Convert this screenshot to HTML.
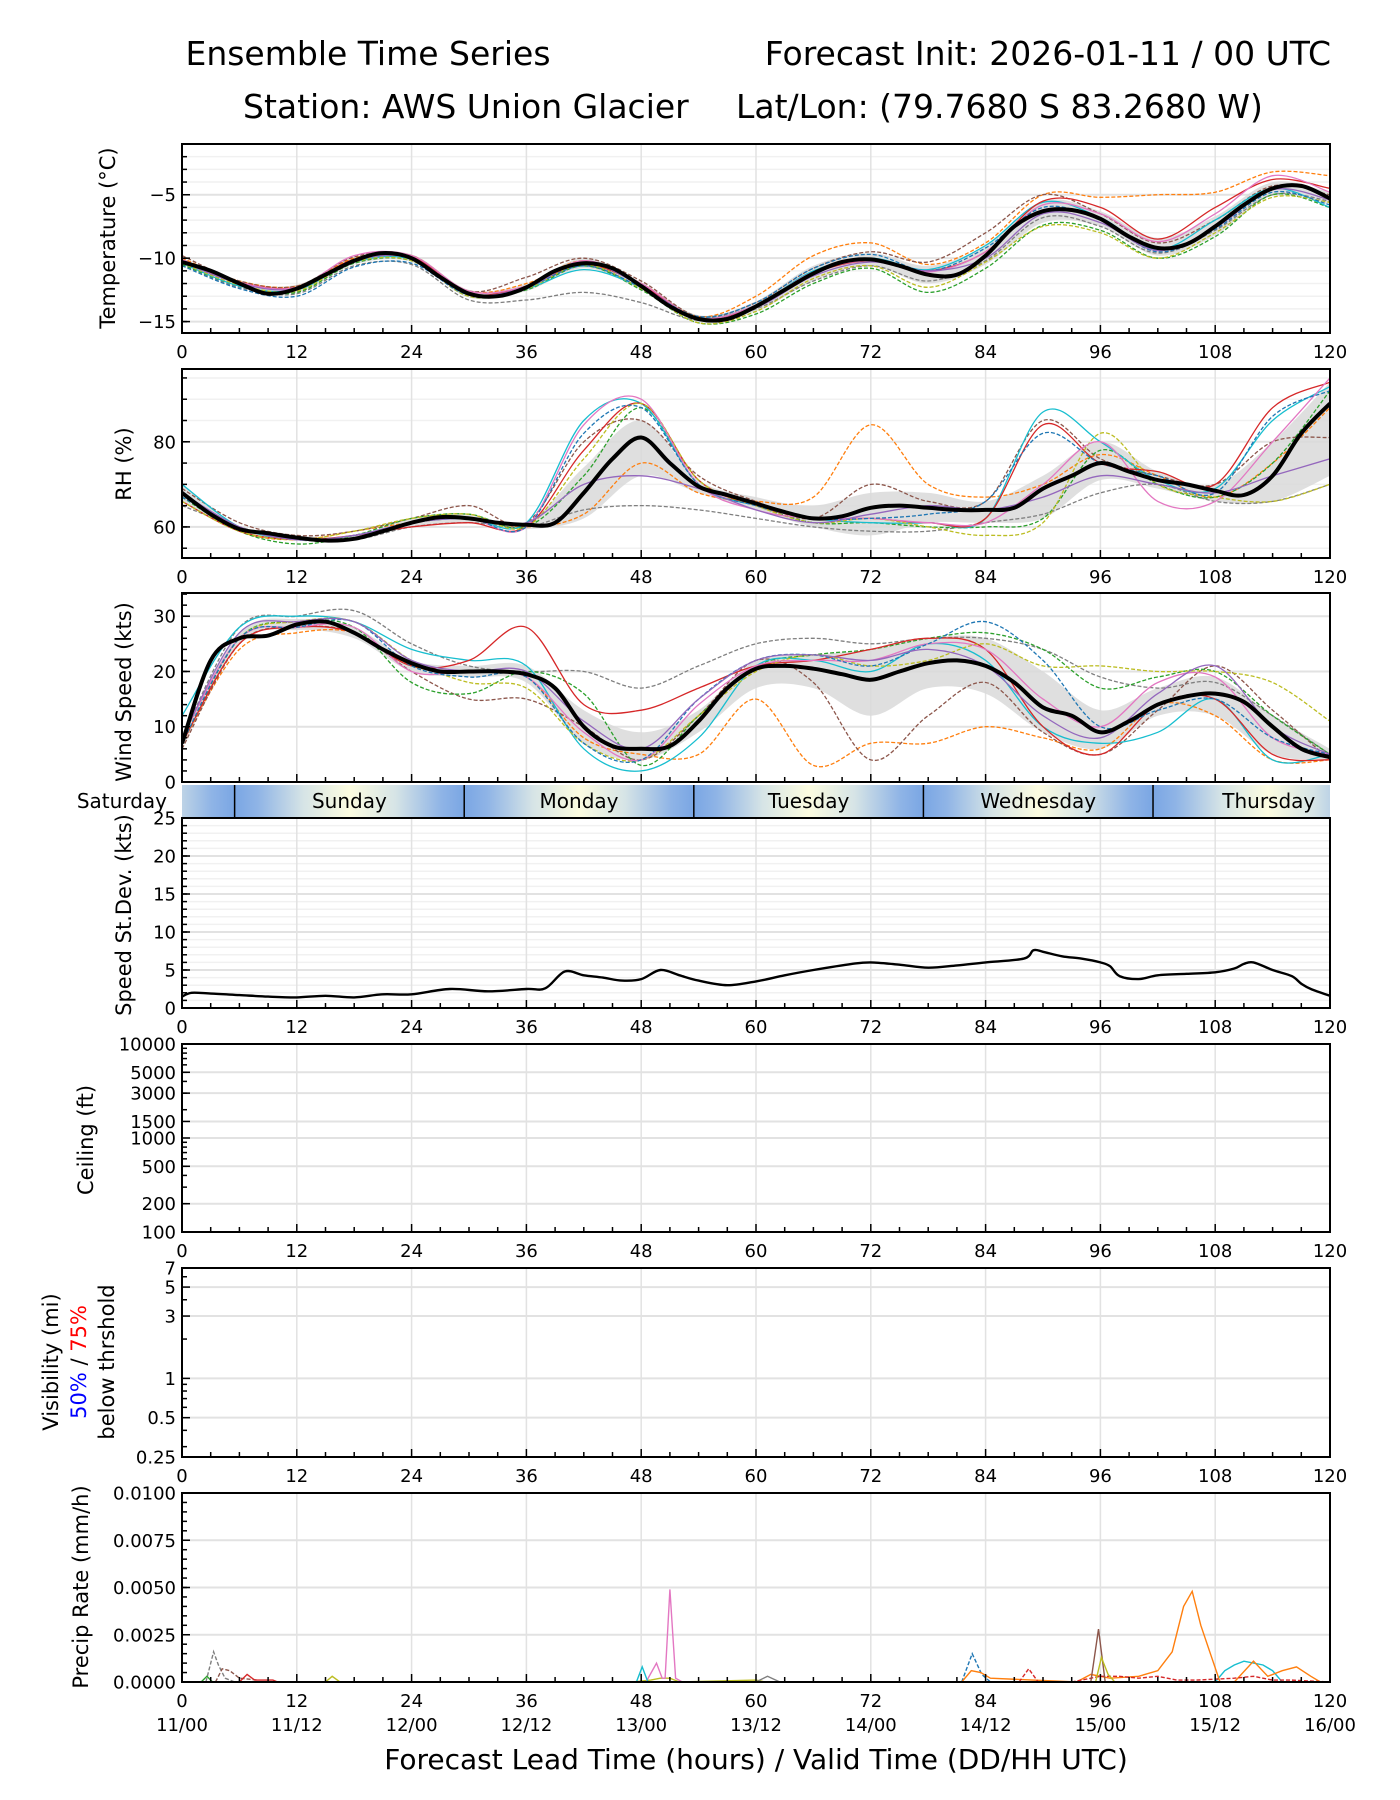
<!DOCTYPE html>
<html><head><meta charset="utf-8"><style>
html,body{margin:0;padding:0;background:#fff}
svg{display:block}
text{font-family:"DejaVu Sans","Liberation Sans",sans-serif;fill:#000}
</style></head><body>
<svg id="chart" xmlns="http://www.w3.org/2000/svg" width="1400" height="1800" viewBox="0 0 1400 1800">
<text x="368" y="65" font-size="33" text-anchor="middle">Ensemble Time Series</text>
<text x="1331" y="65" font-size="33" text-anchor="end">Forecast Init: 2026-01-11 / 00 UTC</text>
<text x="243" y="118" font-size="33">Station: AWS Union Glacier</text>
<text x="736" y="118" font-size="33">Lat/Lon: (79.7680 S 83.2680 W)</text>
<text x="756" y="1769" font-size="28" text-anchor="middle">Forecast Lead Time (hours) / Valid Time (DD/HH UTC)</text>
<g id="layer"></g>
</svg>
<script>
// ---- data ----
const xTicks=[0,12,24,36,48,60,72,84,96,108,120];
const validLabels=["11/00","11/12","12/00","12/12","13/00","13/12","14/00","14/12","15/00","15/12","16/00"];
const dayNames=["Saturday","Sunday","Monday","Tuesday","Wednesday","Thursday"];
const dayStarts=[-18.5,5.5,29.5,53.5,77.5,101.5];
const memberColors=["#ff7f0e","#7f7f7f","#8c564b","#2ca02c","#17becf","#d62728","#bcbd22","#e377c2","#1f77b4","#9467bd"];
const memberDash=[true,true,true,true,false,false,true,false,true,false];

const tempMean=[-10.3,-11.0,-12.0,-12.8,-12.4,-11.3,-10.2,-9.6,-10.0,-11.5,-12.8,-13.0,-12.3,-11.0,-10.4,-10.8,-12.2,-13.8,-14.8,-14.8,-13.8,-12.5,-11.2,-10.3,-10.1,-10.6,-11.3,-11.3,-9.8,-7.5,-6.3,-6.2,-6.9,-8.3,-9.2,-8.9,-7.5,-5.8,-4.5,-4.3,-5.3];
const tempLo=[-10.5,-12.2,-12.7,-10.5,-10.3,-13.1,-12.6,-10.8,-12.5,-15.0,-14.2,-11.8,-10.6,-12.0,-10.5,-7.2,-7.5,-9.8,-8.2,-5.0,-5.8];
const tempHi=[-10.0,-11.8,-12.1,-9.9,-9.7,-12.5,-12.0,-10.0,-11.9,-14.5,-13.4,-10.6,-9.6,-10.6,-9.0,-5.5,-6.3,-8.4,-6.7,-4.0,-4.8];
const tempM1=[-10.0,-11.8,-12.2,-10.0,-9.8,-12.6,-12.0,-10.2,-12.0,-14.6,-13.0,-9.8,-8.8,-10.5,-8.8,-5.0,-5.2,-5.0,-4.8,-3.2,-3.5];
const tempM2=[-10.5,-12.3,-12.8,-10.6,-10.5,-13.3,-13.3,-12.7,-13.5,-14.9,-14.0,-11.8,-10.6,-11.8,-10.2,-6.8,-7.5,-9.6,-7.8,-5.0,-5.5];
const tempM3=[-9.8,-11.8,-12.2,-9.9,-9.8,-12.6,-11.5,-10.0,-11.8,-14.6,-13.5,-10.8,-9.5,-10.3,-8.0,-5.0,-6.5,-8.8,-7.0,-4.3,-5.0];
const tempM4=[-10.5,-12.2,-12.7,-10.4,-10.2,-13.0,-12.5,-10.6,-12.5,-15.1,-14.4,-12.0,-10.8,-12.7,-10.8,-7.4,-7.8,-10.0,-8.3,-5.0,-6.0];
const tempM5=[-10.4,-12.2,-12.5,-10.3,-10.1,-12.9,-12.4,-10.9,-12.3,-14.7,-13.7,-11.0,-10.0,-10.9,-9.0,-5.6,-6.8,-9.3,-7.0,-4.5,-6.0];
const tempM6=[-10.2,-11.9,-12.3,-10.1,-9.9,-12.8,-12.2,-10.5,-12.1,-14.8,-13.8,-11.2,-10.2,-11.0,-9.5,-5.5,-6.0,-8.5,-6.0,-3.8,-4.5];
const tempM7=[-10.4,-12.1,-12.6,-10.3,-10.2,-13.0,-12.4,-10.5,-12.4,-15.1,-14.2,-11.6,-10.6,-12.3,-10.3,-7.5,-8.0,-10.0,-8.0,-5.2,-5.6];
const tempM8=[-10.1,-11.9,-12.3,-9.8,-9.8,-12.6,-12.2,-10.2,-12.0,-14.7,-13.7,-11.1,-10.2,-11.1,-9.5,-5.8,-6.5,-8.7,-6.5,-3.5,-4.8];
const tempM9=[-10.6,-12.4,-13.0,-10.7,-10.4,-12.9,-12.3,-10.6,-12.3,-14.6,-13.5,-10.8,-9.7,-11.0,-9.2,-6.0,-7.0,-9.5,-7.7,-4.8,-5.8];
const tempM10=[-10.3,-12.0,-12.4,-10.2,-10.0,-12.8,-12.3,-10.3,-12.2,-14.8,-13.9,-11.4,-10.3,-11.0,-10.0,-6.5,-7.2,-9.4,-7.6,-4.6,-5.4];

const rhMean=[68,63,59.5,58.5,57.5,56.8,57.2,59,61,62.3,62,61,60.5,61,68,76,81,75,69.5,67.5,65.5,63.5,62,62.5,64.5,65,64.5,64,64,64.5,69,72,75,73,71,70,68.5,67.5,72,82,89];
const rhLo=[66,59,57,57,60,61,59.5,62,72,68,64,60,58,61,61,62,71,69,66,66,72];
const rhHi=[70,60,58,58,62,63,61,74,85,71,67,65,68,68,66,72,80,73,70,80,94];
const rhM1=[68,59,57,59,61,62,60,63,75,68,66,67,84,70,67,70,77,72,67,75,88];
const rhM2=[65,60,57,57,60,61,60,64,65,64,62,60,59,59,61,63,68,70,66,66,70];
const rhM3=[69,61,58,59,62,65,61,80,85,72,66,62,70,66,66,85,76,72,70,80,81];
const rhM4=[67,59,56,58,62,63,60,72,88,70,65,61,61,60,60,62,78,70,67,75,92];
const rhM5=[70,60,57,58,61,62,61,85,89,70,65,62,61,61,62,87,80,71,69,85,93];
const rhM6=[66,59,57,58,60,61,60,78,89,71,65,62,62,61,62,84,75,73,70,88,94];
const rhM7=[66,59,57,59,62,63,60,76,89,71,65,61,62,60,58,61,82,70,67,66,70];
const rhM8=[68,60,57,58,61,62,60,84,90,70,64,62,62,61,61,70,80,66,66,80,95];
const rhM9=[67,60,57,58,61,62,60,82,88,70,65,62,62,63,66,82,75,72,68,86,92];
const rhM10=[68,60,57,58,61,62,61,70,72,69,64,61,63,65,64,67,72,70,68,72,76];

const windMean=[7,22,26,26.5,28.5,29,27,24,21.5,20,20,20,19.5,17,10,6.5,6,6.5,11,17,20.5,21,20.5,19.5,18.5,20,21.5,22,21,18,13.5,12,9,11,14,15.5,16,14.5,10,6,4.5];
const windLo=[6,25,27.5,26,20,19,18,7,4,9,17,17,12,17,16,9,6,12,12,5,4];
const windHi=[8,27,29.5,28,22,21,21,13,9,13,22,23,24,26,26,20,13,17,19,12,6];
const windM1=[7,24,27,27,21,20,19,8,5,5,15,3,7,7,10,8,6,14,12,4,4];
const windM2=[8,28,30,31,25,21,20,20,17,21,25,26,25,26,26,24,19,17,18,12,5];
const windM3=[6,25,28,27,20,15,15,10,4,12,22,18,4,12,18,9,5,13,21,13,4];
const windM4=[7,26,29,28,18,16,20,16,3,12,21,23,24,26,27,24,17,19,20,12,5];
const windM5=[12,28,30,29,24,22,21,6,2,8,21,22,20,25,22,10,7,9,15,4,5];
const windM6=[7,25,28,27,21,22,28,14,13,17,21,22,24,26,24,10,5,14,15,5,4];
const windM7=[8,26,29,29,22,18,17,7,4,12,20,23,21,22,25,21,21,20,20,18,11];
const windM8=[8,26,28,28,20,20,19,9,4,14,21,22,22,25,24,15,10,18,19,8,5];
const windM9=[7,26,28,29,21,19,19,7,4,15,22,23,21,25,29,22,10,13,15,8,5];
const windM10=[8,27,29,29,22,20,20,11,6,15,22,23,22,24,21,12,8,16,21,10,5];

const sdHours=[0,1,3,6,9,12,15,18,21,24,28,32,36,38,40,42,44,46,48,50,52,54,57,60,63,66,70,72,75,78,81,84,88,89,90,92,94,96,97,98,100,102,105,108,110,111,112,114,116,117,118,120];
const sdValues=[1.5,2.0,1.9,1.7,1.5,1.4,1.6,1.4,1.8,1.8,2.5,2.2,2.5,2.6,4.8,4.3,4.0,3.6,3.8,5.0,4.3,3.6,3.0,3.5,4.3,5.0,5.8,6.0,5.7,5.3,5.6,6.0,6.5,7.6,7.4,6.8,6.5,6.0,5.5,4.2,3.8,4.3,4.5,4.7,5.2,5.8,6.0,5.0,4.2,3.2,2.5,1.6];

const prGrayH=[2.5,3.3,3.8,4.5,5.5];const prGrayV=[0,0.0016,0.0009,0.0002,0];
const prBrownH=[3.5,4.2,5,6,8];const prBrownV=[0,0.0007,0.0006,0.0002,0.0001];
const prRedH=[6,6.8,7.6,8.5,9.5,10];const prRedV=[0,0.0004,0.0001,0.0001,0.0001,0];
const prGreenH=[2,2.6,3.2];const prGreenV=[0,0.0003,0];
const prOliveH=[15,15.7,16.5,47,49,50,51,52,60,61];const prOliveV=[0,0.0003,0,0,0.0001,0.0002,0.0002,0,0.0001,0];
const prPinkH=[48.5,49.6,50.2,50.5,51.0,51.6,52.3];const prPinkV=[0,0.001,0.0002,0.0002,0.0049,0.0002,0];
const prCyanH=[47.5,48.1,48.7,108,109,110,111,112,113,114,115];const prCyanV=[0,0.0008,0,0,0.0006,0.0009,0.0011,0.0010,0.0009,0.0006,0];
const prGray2H=[60,61.2,62.5];const prGray2V=[0,0.0003,0];
const prBlueH=[81.5,82.6,83.6,84.5];const prBlueV=[0,0.0015,0.0004,0];
const prOrangeH=[81.5,82.5,83.5,84.5,93.5,95,97,100,102,103.5,104.7,105.6,106.5,107.5,108.5,110,112,113.5,115,116.5,118,119];const prOrangeV=[0,0.0006,0.0005,0.0002,0,0.0004,0.0002,0.0003,0.0006,0.0016,0.0040,0.0048,0.0030,0.0015,0,0,0.0011,0.0003,0.0006,0.0008,0.0003,0];
const prRed2H=[87.5,88.5,89.5,93,96,98,100,102,104,106,110,112,114,116,120];const prRed2V=[0,0.0007,0,0,0.0003,0.0003,0.0002,0.0003,0.0001,0.0001,0.0002,0.0003,0.0001,0.0001,0];
const prBrown2H=[95,95.8,96.5];const prBrown2V=[0,0.0028,0];
const prOlive2H=[95.5,96.1,96.8,97.5];const prOlive2V=[0,0.0013,0.0004,0];

// ---- layout ----
const L=182,R=1330;
const TF=18;
const NS="http://www.w3.org/2000/svg";
const layer=document.getElementById('layer');
function X(h){return L+(R-L)*h/120;}
function el(tag,attrs,parent){const e=document.createElementNS(NS,tag);for(const k in attrs)e.setAttribute(k,attrs[k]);(parent||layer).appendChild(e);return e;}
function yScale(p){return v=>{if(p.log)return p.bottom-(Math.log(v)-Math.log(p.ymin))/(Math.log(p.ymax)-Math.log(p.ymin))*(p.bottom-p.top);return p.bottom-(v-p.ymin)/(p.ymax-p.ymin)*(p.bottom-p.top);};}
function smoothPath(pts){let d="M"+pts[0][0].toFixed(1)+","+pts[0][1].toFixed(1);for(let i=0;i<pts.length-1;i++){const p0=pts[Math.max(0,i-1)],p1=pts[i],p2=pts[i+1],p3=pts[Math.min(pts.length-1,i+2)];const c1=[p1[0]+(p2[0]-p0[0])/6,p1[1]+(p2[1]-p0[1])/6],c2=[p2[0]-(p3[0]-p1[0])/6,p2[1]-(p3[1]-p1[1])/6];d+="C"+c1[0].toFixed(1)+","+c1[1].toFixed(1)+" "+c2[0].toFixed(1)+","+c2[1].toFixed(1)+" "+p2[0].toFixed(1)+","+p2[1].toFixed(1);}return d;}
function series(vals,step,Y){return vals.map((v,i)=>[X(i*step),Y(v)]);}

let clipId=0;
function panel(p){
  const Y=yScale(p);
  const g=el('g',{});
  
  
  const cid='clip'+(clipId++);
  const cp=el('clipPath',{id:cid},g);el('rect',{x:L,y:p.top,width:R-L,height:p.bottom-p.top},cp);
  (p.minorGrid||[]).forEach(v=>{const l=el('line',{x1:L,x2:R,y1:Y(v),y2:Y(v),stroke:'#f1f1f1','stroke-width':1.5},g);});
  xTicks.forEach(h=>{const l=el('line',{x1:X(h),x2:X(h),y1:p.top,y2:p.bottom,stroke:'#e2e2e2','stroke-width':1.5},g);});
  p.ticks.forEach(v=>{const l=el('line',{x1:L,x2:R,y1:Y(v),y2:Y(v),stroke:'#e2e2e2','stroke-width':2},g);});
  const plot=el('g',{'clip-path':'url(#'+cid+')'},g);
  
  
  if(p.draw)p.draw(plot,Y);
  const fr=el('rect',{x:L,y:p.top,width:R-L,height:p.bottom-p.top,fill:'none',stroke:'#000','stroke-width':2},g);
  
  for(let h=0;h<=120;h+=3){const maj=h%12===0;el('line',{x1:X(h),x2:X(h),y1:p.bottom,y2:p.bottom-(maj?8:5),stroke:'#000','stroke-width':1.5},g);}
  if(!p.noXLabels)xTicks.forEach(h=>{const t=el('text',{x:X(h),y:p.bottom+25,'font-size':TF,'text-anchor':'middle'},g);t.textContent=String(h);});
  (p.minorTicks||[]).forEach(v=>{el('line',{x1:L,x2:L+5,y1:Y(v),y2:Y(v),stroke:'#000','stroke-width':1.5},g);});
  p.ticks.forEach((v,i)=>{el('line',{x1:L,x2:L+8,y1:Y(v),y2:Y(v),stroke:'#000','stroke-width':1.5},g);const t=el('text',{x:L-6,y:Y(v)+6.5,'font-size':TF,'text-anchor':'end'},g);t.textContent=p.tickLabels[i];});
  return Y;
}
function drawEnsemble(plot,Y,members,lo,hi,mean,meanStep){
  const up=series(hi,6,Y),dn=series(lo,6,Y).reverse();
  const band=el('path',{d:smoothPath(up)+smoothPath(dn).replace('M','L')+'Z',fill:'#d9d9d9',opacity:0.85},plot);
  
  members.forEach((m,i)=>{const e=el('path',{d:smoothPath(series(m,6,Y)),fill:'none',stroke:memberColors[i],'stroke-width':1.3},plot);if(memberDash[i])e.setAttribute('stroke-dasharray','4,2');
    });
  const ml=el('path',{d:smoothPath(series(mean,meanStep,Y)),fill:'none',stroke:'#000','stroke-width':4,'stroke-linejoin':'round'},plot);
  
}
function range(a,b,s){const r=[];for(let v=a;v<=b+1e-9;v+=s)r.push(+v.toFixed(6));return r;}

panel({name:'temperature',top:144,bottom:333,ymin:-15.9,ymax:-1.0,ticks:[-15,-10,-5],tickLabels:["\u221215","\u221210","\u22125"],
  minorTicks:range(-15,-2,1),minorGrid:range(-15,-2,1),
  draw:(plot,Y)=>drawEnsemble(plot,Y,[tempM1,tempM2,tempM3,tempM4,tempM5,tempM6,tempM7,tempM8,tempM9,tempM10],tempLo,tempHi,tempMean,3)});
panel({name:'rh',top:369,bottom:558,ymin:52.7,ymax:97.1,ticks:[60,80],tickLabels:["60","80"],
  minorTicks:range(55,95,5),minorGrid:range(55,95,5),
  draw:(plot,Y)=>drawEnsemble(plot,Y,[rhM1,rhM2,rhM3,rhM4,rhM5,rhM6,rhM7,rhM8,rhM9,rhM10],rhLo,rhHi,rhMean,3)});
panel({name:'wind-speed',top:593,bottom:782,ymin:0,ymax:34.2,ticks:[0,10,20,30],tickLabels:["0","10","20","30"],noXLabels:true,
  minorTicks:range(0,34,2),minorGrid:[],
  draw:(plot,Y)=>drawEnsemble(plot,Y,[windM1,windM2,windM3,windM4,windM5,windM6,windM7,windM8,windM9,windM10],windLo,windHi,windMean,3)});
panel({name:'speed-stdev',top:818,bottom:1008,ymin:0,ymax:25,ticks:[0,5,10,15,20,25],tickLabels:["0","5","10","15","20","25"],
  minorTicks:range(0,25,1),minorGrid:range(0,25,1),
  draw:(plot,Y)=>{const e=el('path',{d:smoothPath(sdHours.map((h,i)=>[X(h),Y(sdValues[i])])),fill:'none',stroke:'#000','stroke-width':2.4},plot);}});
const ceilMinor=[];[100,1000].forEach(b=>{for(let k=2;k<=9;k++)ceilMinor.push(b*k);});
panel({name:'ceiling',top:1044,bottom:1232,ymin:100,ymax:10000,log:true,ticks:[100,200,500,1000,1500,3000,5000,10000],tickLabels:["100","200","500","1000","1500","3000","5000","10000"],minorTicks:ceilMinor});
panel({name:'visibility',top:1268,bottom:1457,ymin:0.25,ymax:7,log:true,ticks:[0.25,0.5,1,3,5,7],tickLabels:["0.25","0.5","1","3","5","7"],minorTicks:[0.3,0.4,0.6,0.7,0.8,0.9,2,4,6]});
const precipSeries=[[prGrayH,prGrayV,'#7f7f7f',true],[prBrownH,prBrownV,'#8c564b',true],[prRedH,prRedV,'#d62728',false],[prGreenH,prGreenV,'#2ca02c',false],[prOliveH,prOliveV,'#bcbd22',false],[prPinkH,prPinkV,'#e377c2',false],[prCyanH,prCyanV,'#17becf',false],[prGray2H,prGray2V,'#7f7f7f',false],[prBlueH,prBlueV,'#1f77b4',true],[prOrangeH,prOrangeV,'#ff7f0e',false],[prRed2H,prRed2V,'#d62728',true],[prBrown2H,prBrown2V,'#8c564b',false],[prOlive2H,prOlive2V,'#bcbd22',false]];
panel({name:'precip-rate',top:1493,bottom:1682,ymin:0,ymax:0.01,ticks:[0,0.0025,0.005,0.0075,0.01],tickLabels:["0.0000","0.0025","0.0050","0.0075","0.0100"],
  minorTicks:range(0,0.01,0.0005),minorGrid:[],
  draw:(plot,Y)=>{precipSeries.forEach(s=>{const e=el('path',{d:'M'+s[0].map((h,i)=>X(h).toFixed(1)+','+Y(s[1][i]).toFixed(1)).join('L'),fill:'none',stroke:s[2],'stroke-width':1.4},plot);if(s[3])e.setAttribute('stroke-dasharray','4,2');});}});

validLabels.forEach((s,i)=>{const t=el('text',{x:X(xTicks[i]),y:1731,'font-size':TF,'text-anchor':'middle'});t.textContent=s;});

// day band
const defs=el('defs',{});
const grad=el('linearGradient',{id:'dayGrad',x1:0,x2:1,y1:0,y2:0},defs);
[[0,'#7aa6e4'],[0.1,'#8fb4e6'],[0.3,'#d6e4e6'],[0.5,'#fcfce0'],[0.7,'#d6e4e6'],[0.9,'#8fb4e6'],[1,'#7aa6e4']].forEach(s=>el('stop',{offset:s[0],'stop-color':s[1]},grad));
const bandClip=el('clipPath',{id:'bandClip'},defs);el('rect',{x:L,y:785,width:R-L,height:32},bandClip);
const bandG=el('g',{'clip-path':'url(#bandClip)'});

dayStarts.forEach((s,i)=>{const r=el('rect',{x:X(s),y:785,width:X(s+24)-X(s),height:32,fill:'url(#dayGrad)'},bandG);
  if(s>0){const l=el('line',{x1:X(s),x2:X(s),y1:785,y2:817,stroke:'#000','stroke-width':1.5},bandG);}
  if(i>0){const cx=i===5?X(113.6):X(s+12);const t=el('text',{x:cx,y:808,'font-size':20,'text-anchor':'middle'},bandG);t.textContent=dayNames[i];}});
const sat=el('text',{x:167,y:808,'font-size':20,'text-anchor':'end'});sat.textContent=dayNames[0];


// y-axis titles
function ytitle(txt,x,cy,name){const t=el('text',{x:0,y:0,'font-size':21,'text-anchor':'middle',transform:'translate('+x+','+cy+') rotate(-90)'});t.textContent=txt;return t;}
ytitle('Temperature (\u00B0C)',115,238,'temperature-axis-title');
ytitle('RH (%)',131,464,'rh-axis-title');
ytitle('Wind Speed (kts)',131,692,'wind-axis-title');
ytitle('Speed St.Dev. (kts)',131,915,'stdev-axis-title');
ytitle('Ceiling (ft)',93,1140,'ceiling-axis-title');
ytitle('Visibility (mi)',58,1362,'visibility-axis-title');
const v2=ytitle('',86,1362,'visibility-threshold-label');
const s1=el('tspan',{fill:'#0000ff'},v2);s1.textContent='50%';
const s2=el('tspan',{},v2);s2.textContent=' / ';
const s3=el('tspan',{fill:'#ff0000'},v2);s3.textContent='75%';
ytitle('below thrshold',114,1362,'visibility-below-label');
ytitle('Precip Rate (mm/h)',88,1587,'precip-axis-title');
</script>
</body></html>
